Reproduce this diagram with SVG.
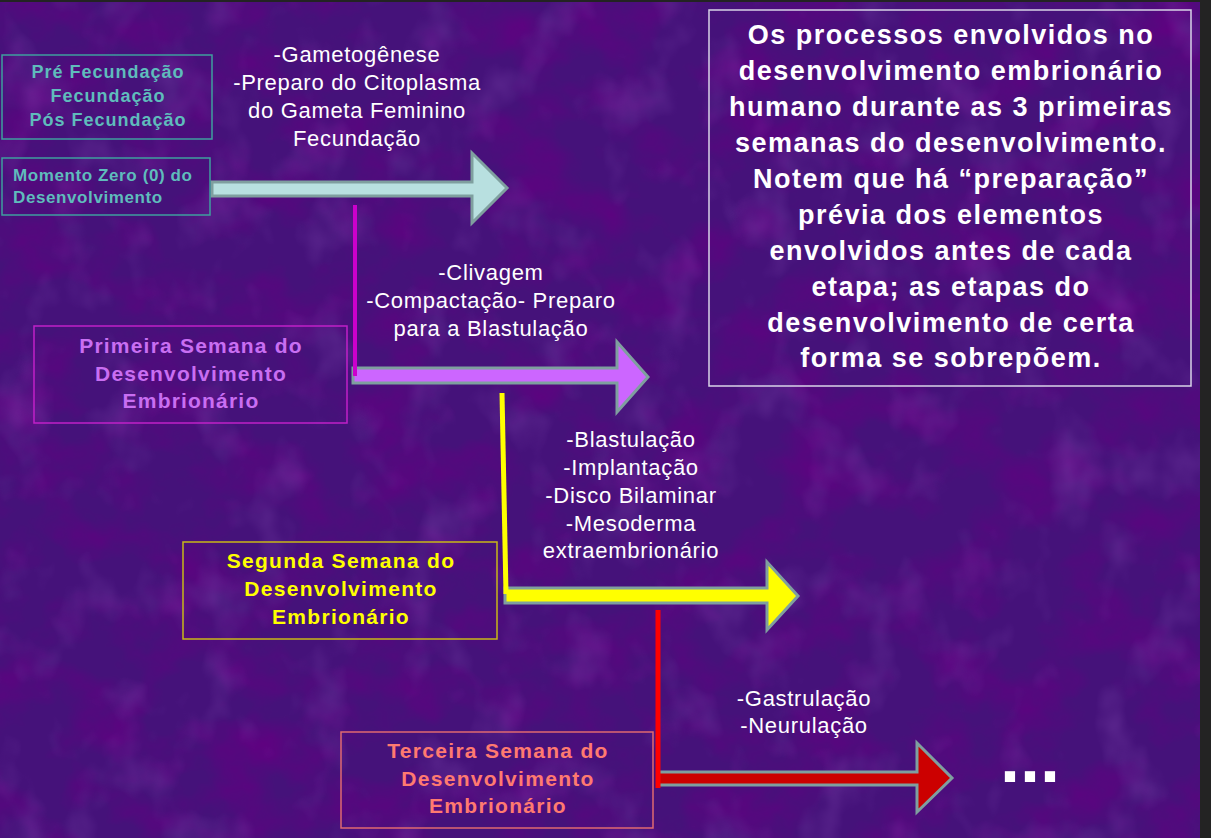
<svg xmlns="http://www.w3.org/2000/svg" width="1211" height="838" viewBox="0 0 1211 838">
<defs>
<filter id="tex" x="0" y="0" width="100%" height="100%">
<feTurbulence type="fractalNoise" baseFrequency="0.014 0.018" numOctaves="4" seed="7"/>
<feColorMatrix type="matrix" values="0 0 0 0 0.12  0 0 0 0 0.0  0 0 0 0 0.22  1.8 0 0 0 -0.75"/>
</filter>
<filter id="tex2" x="0" y="0" width="100%" height="100%">
<feTurbulence type="fractalNoise" baseFrequency="0.02 0.016" numOctaves="3" seed="3"/>
<feColorMatrix type="matrix" values="0 0 0 0 0.36  0 0 0 0 0.14  0 0 0 0 0.62  1.4 0 0 0 -0.72"/>
</filter>
</defs>
<style>
.arrow{stroke:#7f9f9f;stroke-width:3;stroke-linejoin:miter}
.note{font-family:"Liberation Sans",Arial,sans-serif;font-size:22px;letter-spacing:0.7px;fill:#ffffff;text-anchor:middle}
.box{fill:none;stroke-width:1.5}
.bt{font-family:"Liberation Sans",Arial,sans-serif;font-weight:bold;text-anchor:middle}
</style>
<rect width="1211" height="838" fill="#45127a"/>
<rect width="1200" height="838" filter="url(#tex)"/>
<rect width="1200" height="838" filter="url(#tex2)" opacity="0.4"/>
<rect x="1200" y="0" width="11" height="838" fill="#232323"/>
<rect x="0" y="0" width="1211" height="2" fill="#232323"/>

<g id="connectors">
<polygon class="arrow" fill="#b8e0e0" points="212,182 472,182 472,153 507,188 472,223 472,196 212,196"/>
<polygon class="arrow" fill="#cc66ff" points="353,368 617,368 617,342 648,377 617,412 617,383 353,383"/>
<polygon class="arrow" fill="#ffff00" points="505,588 767,588 767,562 798,596 767,630 767,603 505,603"/>
<polygon class="arrow" fill="#cc0000" points="658,772 917,772 917,743 952,778 917,812 917,785 658,785"/>
<line x1="355" y1="205" x2="355" y2="376" stroke="#cc00cc" stroke-width="4"/>
<line x1="502" y1="393" x2="506" y2="594" stroke="#ffff00" stroke-width="5"/>
<line x1="658" y1="610" x2="658" y2="788" stroke="#ff0000" stroke-width="5"/>
</g>

<g id="pre-fecundacao">
<rect class="box" x="2" y="55" width="210" height="84" stroke="#3f9f9f"/>
<text class="bt" font-size="18" letter-spacing="1" fill="#5fbcbc"><tspan x="108" y="78">Pré Fecundação</tspan><tspan x="108" y="102">Fecundação</tspan><tspan x="108" y="126">Pós Fecundação</tspan></text>
</g>

<g id="momento-zero">
<rect class="box" x="2" y="158" width="208" height="57" stroke="#3f9f9f"/>
<text class="bt" font-size="17" letter-spacing="0.6" fill="#5fbcbc" style="text-anchor:start"><tspan x="13" y="181">Momento Zero (0) do</tspan><tspan x="13" y="203">Desenvolvimento</tspan></text>
</g>

<g id="fecundacao-notes">
<text class="note"><tspan x="357" y="62">-Gametogênese</tspan><tspan x="357" y="90">-Preparo do Citoplasma</tspan><tspan x="357" y="118">do Gameta Feminino</tspan><tspan x="357" y="146">Fecundação</tspan></text>
</g>

<g id="primeira-semana">
<rect class="box" x="34" y="326" width="313" height="97" stroke="#c020c8"/>
<text class="bt" font-size="21" letter-spacing="1.2" fill="#c96ef2"><tspan x="191" y="353">Primeira Semana do</tspan><tspan x="191" y="381">Desenvolvimento</tspan><tspan x="191" y="408">Embrionário</tspan></text>
</g>

<g id="primeira-notes">
<text class="note"><tspan x="491" y="280">-Clivagem</tspan><tspan x="491" y="308">-Compactação- Preparo</tspan><tspan x="491" y="336">para a Blastulação</tspan></text>
</g>

<g id="segunda-semana">
<rect class="box" x="183" y="542" width="314" height="97" stroke="#c8b818"/>
<text class="bt" font-size="21" letter-spacing="1.3" fill="#ffff00"><tspan x="341" y="568">Segunda Semana do</tspan><tspan x="341" y="596">Desenvolvimento</tspan><tspan x="341" y="624">Embrionário</tspan></text>
</g>

<g id="segunda-notes">
<text class="note"><tspan x="631" y="447">-Blastulação</tspan><tspan x="631" y="475">-Implantação</tspan><tspan x="631" y="503">-Disco Bilaminar</tspan><tspan x="631" y="531">-Mesoderma</tspan><tspan x="631" y="558">extraembrionário</tspan></text>
</g>

<g id="terceira-semana">
<rect class="box" x="341" y="732" width="312" height="96" stroke="#e06a70"/>
<text class="bt" font-size="21" letter-spacing="1.3" fill="#ff7a70"><tspan x="498" y="758">Terceira Semana do</tspan><tspan x="498" y="786">Desenvolvimento</tspan><tspan x="498" y="813">Embrionário</tspan></text>
</g>

<g id="terceira-notes">
<text class="note"><tspan x="804" y="706">-Gastrulação</tspan><tspan x="804" y="733">-Neurulação</tspan></text>
</g>

<g id="continua">
<text x="1000" y="782" font-family="Liberation Sans,Arial,sans-serif" font-weight="bold" font-size="72" fill="#ffffff">...</text>
</g>

<g id="resumo">
<rect class="box" x="709" y="10" width="482" height="376" stroke="#d8d4e8"/>
<text class="bt" font-size="27" letter-spacing="1.5" fill="#ffffff"><tspan x="951" y="44">Os processos envolvidos no</tspan><tspan x="951" y="80">desenvolvimento embrionário</tspan><tspan x="951" y="116">humano durante as 3 primeiras</tspan><tspan x="951" y="152">semanas do desenvolvimento.</tspan><tspan x="951" y="188">Notem que há “preparação”</tspan><tspan x="951" y="224">prévia dos elementos</tspan><tspan x="951" y="260">envolvidos antes de cada</tspan><tspan x="951" y="296">etapa; as etapas do</tspan><tspan x="951" y="332">desenvolvimento de certa</tspan><tspan x="951" y="367">forma se sobrepõem.</tspan></text>
</g>
</svg>
